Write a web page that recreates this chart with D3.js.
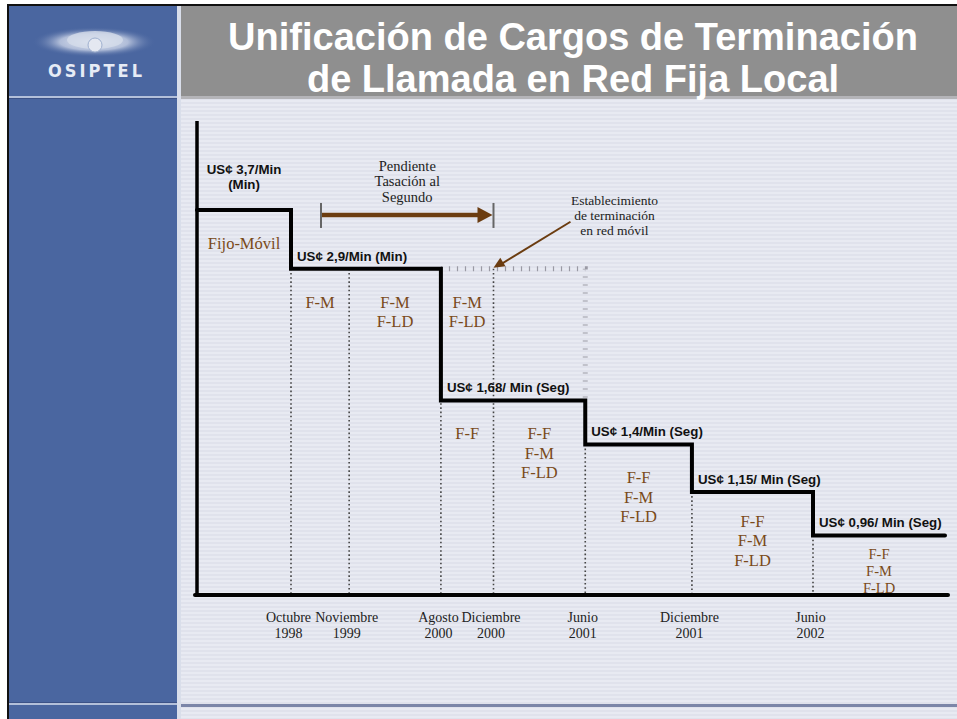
<!DOCTYPE html>
<html>
<head>
<meta charset="utf-8">
<script src="https://cdn.jsdelivr.net/npm/d3@7"></script>
<style>
  body { margin: 0; background: #fff; }
  svg { display: block; }
</style>
</head>
<body>
<div id="chart"></div>
<script>
// breaks on the time axis
const breakDates = ["1998-10", "1999-11", "2000-08", "2000-12", "2001-06", "2001-12", "2002-06"];
const tickLabels = [["Octubre", "1998"], ["Noviembre", "1999"], ["Agosto", "2000"], ["Diciembre", "2000"],
                    ["Junio", "2001"], ["Diciembre", "2001"], ["Junio", "2002"]];
// charge in US cents / min in each column (before the first break, then after each one)
const columnRates = [3.7, 2.9, 2.9, 1.68, 1.68, 1.4, 1.15, 0.96];
const rateLabels = [["US¢ 3,7/Min", "(Min)"], ["US¢ 2,9/Min (Min)"], ["US¢ 1,68/ Min (Seg)"],
                    ["US¢ 1,4/Min (Seg)"], ["US¢ 1,15/ Min (Seg)"], ["US¢ 0,96/ Min (Seg)"]];
// fijo-movil charge that stays at 2,9 (dotted)
const fmDates = ["2000-08", "2001-06"];
const fmRates = [2.9, 1.68];
// services under each level
const serviceCols = [0, 1, 2, 3, 3, 4, 5, 6, 7];
const serviceRates = [3.7, 2.9, 2.9, 2.9, 1.68, 1.68, 1.4, 1.15, 0.96];
const serviceText = [["Fijo-Móvil"], ["F-M"], ["F-M", "F-LD"], ["F-M", "F-LD"], ["F-F"],
                     ["F-F", "F-M", "F-LD"], ["F-F", "F-M", "F-LD"], ["F-F", "F-M", "F-LD"], ["F-F", "F-M", "F-LD"]];
// annotations
const pendingDates = ["1999-07", "2000-12"];
const pendingText = ["Pendiente", "Tasación al", "Segundo"];
const mobileDate = "2000-12";
const mobileText = ["Establecimiento", "de terminación", "en red móvil"];

const W = 957, H = 719;
const brown = "#7a4a1a", arrowBrown = "#6b3c10";
const serif = "'Liberation Serif', 'Times New Roman', serif";
const sans = "'Liberation Sans', Arial, sans-serif";

const svg = d3.select("#chart").append("svg")
    .attr("width", W)
    .attr("height", H);

const defs = svg.append("defs");
const stripes = defs.append("pattern")
    .attr("id", "stripes")
    .attr("patternUnits", "userSpaceOnUse")
    .attr("width", 8).attr("height", 4);
stripes.append("rect").attr("width", 8).attr("height", 4).attr("fill", "#e0e2ec");
stripes.append("rect").attr("width", 8).attr("height", 2).attr("fill", "#e8eaf2");

const glow = defs.append("radialGradient").attr("id", "glow");
glow.append("stop").attr("offset", "0%").attr("stop-color", "#f4f6fb").attr("stop-opacity", 1);
glow.append("stop").attr("offset", "55%").attr("stop-color", "#c9d2e6").attr("stop-opacity", 0.8);
glow.append("stop").attr("offset", "100%").attr("stop-color", "#4b66a0").attr("stop-opacity", 0);

// page frame
svg.append("rect").attr("width", W).attr("height", H).attr("fill", "#fff");
svg.append("rect").attr("x", 7).attr("y", 4).attr("width", W - 7).attr("height", H - 4).attr("fill", "#111");
svg.append("rect").attr("x", 9).attr("y", 6).attr("width", 168).attr("height", H - 6).attr("fill", "#4a66a0");
svg.append("rect").attr("x", 177).attr("y", 6).attr("width", 4).attr("height", H - 6).attr("fill", "#d9deea");
svg.append("rect").attr("x", 181).attr("y", 6).attr("width", W - 181).attr("height", 90).attr("fill", "#8f8f8f");
svg.append("rect").attr("x", 181).attr("y", 96).attr("width", W - 181).attr("height", 3).attr("fill", "#b4b4b8");
svg.append("rect").attr("x", 181).attr("y", 99).attr("width", W - 181).attr("height", H - 99).attr("fill", "url(#stripes)");
svg.append("rect").attr("x", 9).attr("y", 96).attr("width", 168).attr("height", 2).attr("fill", "#b3c0da");
svg.append("rect").attr("x", 9).attr("y", 98).attr("width", 168).attr("height", 1).attr("fill", "#3c5287");
svg.append("rect").attr("x", 9).attr("y", 702).attr("width", 168).attr("height", 1).attr("fill", "#3c5287");
svg.append("rect").attr("x", 9).attr("y", 703).attr("width", 168).attr("height", 2).attr("fill", "#b3c0da");
svg.append("rect").attr("x", 181).attr("y", 704).attr("width", W - 181).attr("height", 3).attr("fill", "#7c86a8");

// logo
svg.append("ellipse").attr("cx", 94).attr("cy", 42).attr("rx", 62).attr("ry", 15).attr("fill", "url(#glow)");
svg.append("ellipse").attr("cx", 95).attr("cy", 40).attr("rx", 28).attr("ry", 9).attr("fill", "#d5dcea").attr("opacity", 0.8);
svg.append("circle").attr("cx", 95).attr("cy", 45).attr("r", 7).attr("fill", "#e4e8f1").attr("stroke", "#9fb0cf");
svg.append("text")
    .attr("x", 48).attr("y", 77)
    .attr("textLength", 94).attr("lengthAdjust", "spacing")
    .style("font-family", "'DejaVu Sans Condensed', 'DejaVu Sans', sans-serif")
    .style("font-size", "18px").style("font-weight", "bold")
    .attr("fill", "#e6ebf5")
    .text("OSIPTEL");

// title
const title = svg.append("text")
    .attr("text-anchor", "middle")
    .attr("fill", "#fff")
    .style("font-family", sans).style("font-size", "38px").style("font-weight", "bold");
title.append("tspan").attr("x", 573).attr("y", 50).text("Unificación de Cargos de Terminación");
title.append("tspan").attr("x", 573).attr("y", 92).text("de Llamada en Red Fija Local");

// chart
const margin = {top: 121, left: 197},
    width = 748,
    height = 474;

const g = svg.append("g").attr("transform", "translate(" + margin.left + "," + margin.top + ")");

const parse = d3.timeParse("%Y-%m");
const origin = parse(breakDates[0]);
const months = d => d3.timeMonth.count(origin, parse(d));

// the slide spaces the dates unevenly, later periods get more room
const x = d3.scalePow().exponent(1.8)
    .domain(d3.extent(breakDates, months))
    .range([94, 616]);
const y = d3.scaleLog()
    .domain([0.75, 5.35])
    .range([height, 0]);

const edges = [0].concat(breakDates.map(d => x(months(d)))).concat([width]);

// dividers under each break
const fmStart = months(fmDates[0]), fmEnd = months(fmDates[1]);
g.selectAll(".divider")
    .data(breakDates)
    .enter().append("line")
    .attr("class", "divider")
    .attr("x1", d => x(months(d)))
    .attr("x2", d => x(months(d)))
    .attr("y1", (d, i) => {
        let r = columnRates[i + 1];
        const m = months(d);
        if (m >= fmStart && m < fmEnd) r = Math.max(r, fmRates[0]);
        return y(r);
    })
    .attr("y2", height)
    .attr("stroke", "#444")
    .attr("stroke-width", 1.6)
    .attr("stroke-dasharray", "1.6,2.6");

// dotted fijo-movil level
const fmPoints = [[x(fmStart), y(fmRates[0])], [x(fmEnd), y(fmRates[0])], [x(fmEnd), y(fmRates[1])]];
g.append("path")
    .attr("d", d3.line()(fmPoints))
    .attr("fill", "none")
    .attr("stroke", "#9a9aa4")
    .attr("stroke-width", 5)
    .attr("stroke-dasharray", "1.2,6.8");

// step line
const stepData = columnRates.map((r, i) => [edges[i], r]).concat([[width, columnRates[columnRates.length - 1]]]);
g.append("path")
    .attr("d", d3.line().x(d => d[0]).y(d => y(d[1])).curve(d3.curveStepAfter)(stepData))
    .attr("fill", "none")
    .attr("stroke", "#000")
    .attr("stroke-width", 4)
    .attr("stroke-linecap", "round");

// axes
g.append("line")
    .attr("x1", 0).attr("x2", 0).attr("y1", 0).attr("y2", height + 1)
    .attr("stroke", "#000").attr("stroke-width", 3.5);
g.append("line")
    .attr("x1", -2).attr("x2", width + 3).attr("y1", height).attr("y2", height)
    .attr("stroke", "#000").attr("stroke-width", 4).attr("stroke-linecap", "round");

g.append("g")
    .attr("transform", "translate(0," + height + ")")
    .call(d3.axisBottom(x).tickValues(breakDates.map(months)).tickSize(0).tickFormat(""))
    .call(a => a.select(".domain").remove())
    .call(a => a.selectAll(".tick text").each(function(d, i) {
        const t = d3.select(this)
            .attr("y", 27).attr("dy", null)
            .attr("fill", "#222")
            .style("font-family", serif).style("font-size", "14px");
        tickLabels[i].forEach((s, j) => {
            t.append("tspan").attr("x", -3).attr("dy", j ? 15.5 : 0).text(s);
        });
    }));

// rate labels, one for each level
const levelStarts = [];
columnRates.forEach((r, i) => { if (i === 0 || r !== columnRates[i - 1]) levelStarts.push(i); });
levelStarts.forEach((c, k) => {
    const lines = rateLabels[k];
    const ly = y(columnRates[c]);
    const t = g.append("text")
        .attr("fill", "#111")
        .style("font-family", sans).style("font-size", "13.3px").style("font-weight", "bold");
    if (lines.length > 1) {
        const cx = (edges[c] + edges[c + 1]) / 2;
        t.attr("text-anchor", "middle");
        lines.forEach((s, j) => t.append("tspan").attr("x", cx).attr("y", ly - 36 + j * 15).text(s));
    } else {
        t.attr("x", edges[c] + 6).attr("y", ly - 8).text(lines[0]);
    }
});

// service labels
serviceCols.forEach((c, k) => {
    const top = y(serviceRates[k]);
    const space = height - top;
    const compact = space < 80;
    const fs = compact ? 14.5 : 16.5, lh = compact ? 17 : 19.5;
    const off = Math.min(39, 9 + space * 0.25);
    const t = g.append("text")
        .attr("text-anchor", "middle")
        .attr("fill", brown)
        .style("font-family", serif).style("font-size", fs + "px");
    serviceText[k].forEach((s, j) => {
        t.append("tspan")
            .attr("x", (edges[c] + edges[c + 1]) / 2)
            .attr("y", top + off + j * lh)
            .text(s);
    });
});

// pendiente tasacion al segundo
const pa = x(months(pendingDates[0])), pb = x(months(pendingDates[1]));
const py = y(columnRates[0]) + 5;
g.append("line").attr("x1", pa).attr("x2", pb - 12).attr("y1", py).attr("y2", py)
    .attr("stroke", arrowBrown).attr("stroke-width", 4.5);
g.append("path")
    .attr("d", d3.line()([[pb - 16, py - 8], [pb - 1, py], [pb - 16, py + 8]]) + "Z")
    .attr("fill", arrowBrown);
[pa, pb].forEach(px => {
    g.append("line").attr("x1", px).attr("x2", px).attr("y1", py - 12).attr("y2", py + 13)
        .attr("stroke", "#666").attr("stroke-width", 2);
});
const pt = g.append("text")
    .attr("text-anchor", "middle").attr("fill", "#222")
    .style("font-family", serif).style("font-size", "14.5px");
pendingText.forEach((s, j) => pt.append("tspan").attr("x", (pa + pb) / 2).attr("y", py - 44 + j * 15.5).text(s));

// establecimiento de terminacion en red movil
const mx = x(months(mobileDate)), my = y(fmRates[0]);
const ang = Math.atan2(-47, 77);
g.append("line")
    .attr("x1", mx + 77).attr("y1", my - 47)
    .attr("x2", mx + 8 * Math.cos(ang)).attr("y2", my + 8 * Math.sin(ang))
    .attr("stroke", arrowBrown).attr("stroke-width", 2);
g.append("path")
    .attr("d", d3.line()([[0, 0], [11, -5], [11, 5]]) + "Z")
    .attr("transform", "translate(" + mx + "," + (my - 1) + ") rotate(" + (ang * 180 / Math.PI) + ")")
    .attr("fill", arrowBrown);
const mt = g.append("text")
    .attr("text-anchor", "middle").attr("fill", "#222")
    .style("font-family", serif).style("font-size", "13.5px");
mobileText.forEach((s, j) => mt.append("tspan").attr("x", mx + 121).attr("y", my - 64 + j * 15).text(s));
</script>
</body>
</html>
